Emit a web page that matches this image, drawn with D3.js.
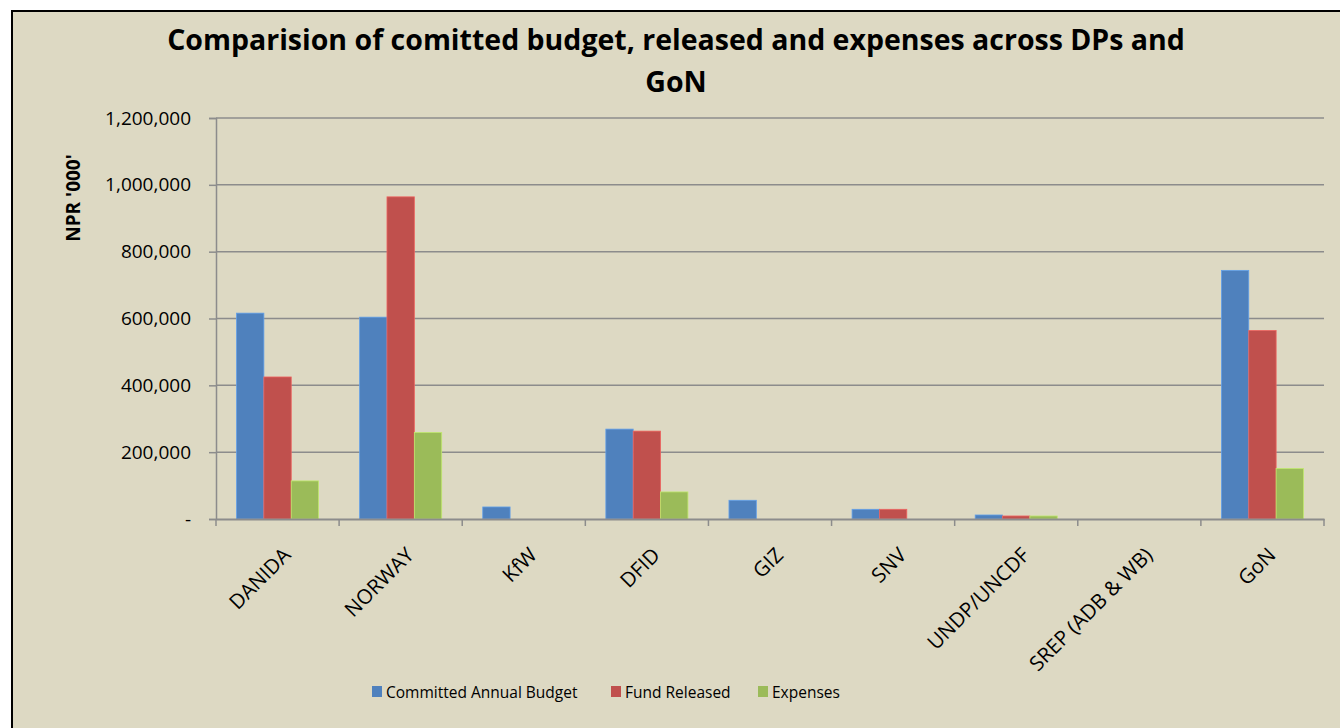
<!DOCTYPE html>
<html>
<head>
<meta charset="utf-8">
<script src="https://cdn.jsdelivr.net/npm/d3@7"></script>
<style>
  body { margin: 0; background: #fff; }
  text { font-family: "Open Sans", "Liberation Sans", sans-serif; }
</style>
</head>
<body>
<div id="chart"></div>
<script>
const categories = ["DANIDA", "NORWAY", "KfW", "DFID", "GIZ", "SNV", "UNDP/UNCDF", "SREP (ADB & WB)", "GoN"];
const seriesNames = ["Committed Annual Budget", "Fund Released", "Expenses"];
const committed = [616000, 604000, 36000, 269000, 56000, 29000, 12000, 0, 744000];
const released = [425000, 964000, 0, 263000, 0, 29000, 9000, 0, 564000];
const expenses = [114000, 259000, 0, 81000, 0, 0, 9000, 0, 151000];
const yTicks = [0, 200000, 400000, 600000, 800000, 1000000, 1200000];
const colors = ["#4F81BD", "#C0504D", "#9BBB59"];

const width = 1340;
const height = 728;
const marginLeft = 216;
const marginRight = 16;
const marginTop = 118;
const plotBottom = 519;

const data = categories.map((c, i) => ({
  name: c,
  values: [committed[i], released[i], expenses[i]]
}));

const svg = d3.create("svg")
  .attr("width", width)
  .attr("height", height)
  .attr("viewBox", [0, 0, width, height]);

d3.select("#chart").append(() => svg.node());

// background and border
svg.append("rect")
  .attr("x", 12).attr("y", 11)
  .attr("width", width).attr("height", height)
  .attr("fill", "#DDD9C3")
  .attr("stroke", "#000")
  .attr("stroke-width", 2);

const x = d3.scaleBand()
  .domain(categories)
  .range([marginLeft, width - marginRight]);

const x1 = d3.scaleBand()
  .domain(seriesNames)
  .range([x.bandwidth() / 6, x.bandwidth() * 5 / 6]);

const y = d3.scaleLinear()
  .domain([0, 1200000])
  .range([plotBottom, marginTop]);

// gridlines
svg.append("g")
  .selectAll("line")
  .data(yTicks.slice(1))
  .join("line")
  .attr("x1", marginLeft)
  .attr("x2", width - marginRight)
  .attr("y1", d => y(d))
  .attr("y2", d => y(d))
  .attr("stroke", "#8C8C8C")
  .attr("stroke-width", 1.5);

// bars
svg.append("g")
  .selectAll("g")
  .data(data)
  .join("g")
  .attr("transform", d => `translate(${x(d.name)},0)`)
  .selectAll("rect")
  .data(d => d.values.map((v, j) => ({ series: seriesNames[j], value: v, color: colors[j] })))
  .join("rect")
  .filter(d => d.value > 0)
  .attr("x", d => x1(d.series))
  .attr("y", d => y(d.value))
  .attr("width", x1.bandwidth())
  .attr("height", d => y(0) - y(d.value))
  .attr("fill", d => d.color)
  .attr("stroke", d => d3.color(d.color).brighter(0.6))
  .attr("stroke-width", 0.8);

// y axis
const fmt = d3.format(",");
svg.append("g")
  .attr("transform", `translate(${marginLeft},0)`)
  .call(d3.axisLeft(y).tickValues(yTicks).tickSize(7).tickPadding(18)
    .tickFormat(d => d === 0 ? "-" : fmt(d)))
  .call(g => g.select(".domain").attr("stroke", "#8C8C8C").attr("stroke-width", 1.5))
  .call(g => g.selectAll(".tick line").attr("stroke", "#8C8C8C").attr("stroke-width", 1.5))
  .call(g => g.selectAll(".tick text")
    .attr("fill", "#000")
    .style("font-size", "19px")
    .style("font-family", "'Open Sans', sans-serif"));

// x axis
svg.append("g")
  .attr("transform", `translate(0,${plotBottom})`)
  .call(d3.axisBottom(x).tickSize(0).tickFormat(""))
  .call(g => g.select(".domain").attr("stroke", "#8C8C8C").attr("stroke-width", 2))
  .call(g => g.selectAll(".tick").remove());

svg.append("g")
  .selectAll("line")
  .data(categories.concat(["_end"]))
  .join("line")
  .attr("x1", (d, i) => marginLeft + i * x.step())
  .attr("x2", (d, i) => marginLeft + i * x.step())
  .attr("y1", plotBottom)
  .attr("y2", plotBottom + 7)
  .attr("stroke", "#8C8C8C")
  .attr("stroke-width", 1.5);

svg.append("g")
  .selectAll("text")
  .data(categories)
  .join("text")
  .attr("transform", d => `translate(${x(d) + x.bandwidth() / 2 + 4},${plotBottom + 27}) rotate(-45)`)
  .attr("text-anchor", "end")
  .attr("dy", "0.72em")
  .style("font-size", "20.5px")
  .text(d => d);

// y axis title
svg.append("text")
  .attr("transform", `translate(80,198) rotate(-90)`)
  .attr("text-anchor", "middle")
  .style("font-size", "19px")
  .style("font-weight", "bold")
  .text("NPR '000'");

// title
const title = svg.append("text")
  .attr("text-anchor", "middle")
  .style("font-size", "28.5px")
  .style("font-weight", "bold");
title.append("tspan").attr("x", 676).attr("y", 50)
  .text("Comparision of comitted budget, released and expenses across DPs and");
title.append("tspan").attr("x", 676).attr("y", 92).text("GoN");

// legend
const legendX = [372, 611, 758];
const legend = svg.append("g")
  .selectAll("g")
  .data(seriesNames)
  .join("g")
  .attr("transform", (d, i) => `translate(${legendX[i]},686)`);
legend.append("rect")
  .attr("width", 10).attr("height", 11)
  .attr("fill", (d, i) => colors[i]);
legend.append("text")
  .attr("x", 14).attr("y", 12)
  .style("font-size", "15.5px")
  .text(d => d);
</script>
</body>
</html>
